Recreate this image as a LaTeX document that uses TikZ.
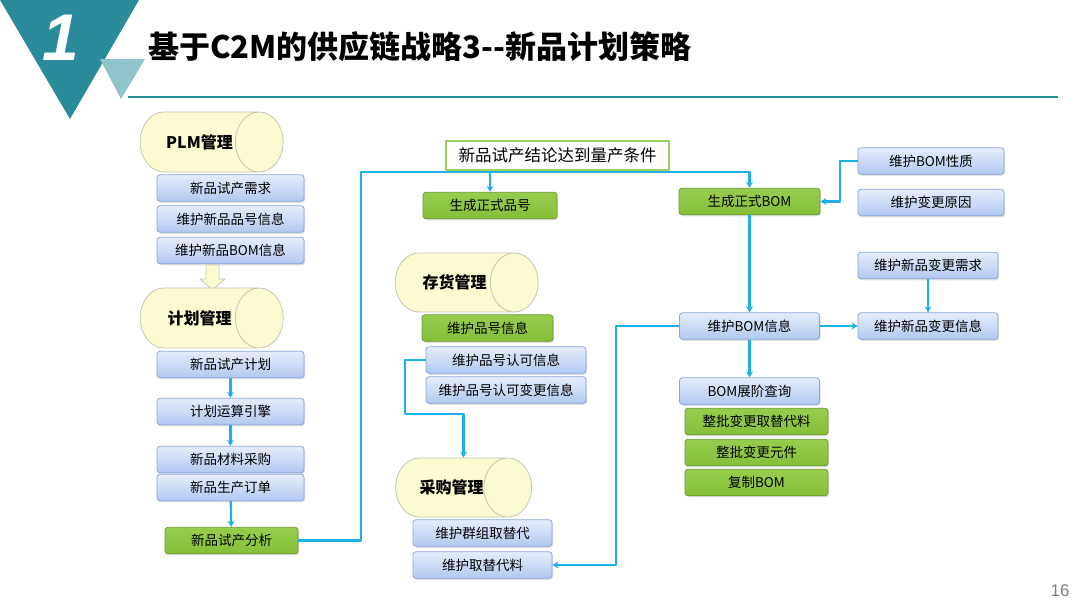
\documentclass[tikz,border=0pt]{standalone}
\usepackage{fontspec}
\setmainfont{Noto Sans CJK SC}
\newfontfamily\latinsans{Liberation Sans}
\usetikzlibrary{arrows.meta,shapes.geometric,shadows}
\definecolor{teala}{HTML}{2A8C9A}
\definecolor{tealb}{HTML}{8EC4CC}
\definecolor{flowblue}{HTML}{1EB0E6}
\definecolor{boxtop}{HTML}{E6EDFB}
\definecolor{boxbot}{HTML}{B2C8F1}
\definecolor{boxedge}{HTML}{8BA6DA}
\definecolor{greentop}{HTML}{98CC4E}
\definecolor{greenbot}{HTML}{86BF3A}
\definecolor{greenedge}{HTML}{6C9A30}
\definecolor{condedge}{HTML}{9DCF5D}
\definecolor{cylfill}{HTML}{FCFAD0}
\definecolor{cyledge}{HTML}{C4C6B4}
\tikzset{
  boxbase/.style={line width=0.8pt, rounded corners=3pt, minimum height=26.5pt, inner sep=0pt,
    drop shadow={opacity=0.25, shadow xshift=1pt, shadow yshift=-1.5pt},
    font=\fontsize{13.5}{14}\selectfont},
  bluebox/.style={boxbase, draw=boxedge, top color=boxtop, bottom color=boxbot},
  greenbox/.style={boxbase, draw=greenedge, top color=greentop, bottom color=greenbot},
  % el ancho es el diametro, la altura es el largo
  dbcyl/.style={cylinder, shape aspect=3.1, draw=cyledge, fill=cylfill, line width=0.8pt,
    minimum width=60pt, minimum height=143pt, inner sep=0pt,
    font=\fontsize{16}{16}\selectfont\bfseries},
  flow/.style={draw=flowblue, line width=2.2pt, -{Stealth[length=6pt, width=7pt]}},
}
\begin{document}
\begin{tikzpicture}[x=1pt, y=-1pt, line join=round]
  \useasboundingbox[fill=white] (0,0) rectangle (1080,608);
  % la cabecera
  \fill[teala] (0,0) -- (139,0) -- (70,119) -- cycle;
  \fill[tealb] (100,59) -- (145,59) -- (121,99) -- cycle;
  \node[text=white, font=\latinsans\fontsize{66}{66}\selectfont\bfseries\itshape] (num) at (61,38) {1};
  \node[anchor=west, inner sep=0pt, font=\fontsize{31}{32}\selectfont\bfseries] (title) at (148,47) {基于C2M的供应链战略3{-}{-}新品计划策略};
  \draw[teala, line width=1.2pt] (128,97) -- (1058,97);
  \node[text=gray, font=\latinsans\fontsize{17}{17}\selectfont] (page) at (1060,591) {16};
  % columna izquierda
  \node[dbcyl] (plm) at (199.5,142) {PLM管理};
  \foreach \nm/\y/\txt in {req/188/新品试产需求, item/219/维护新品品号信息, bomdata/250.5/维护新品BOM信息}
    \node[bluebox, minimum width=147pt] (\nm) at (230.5,\y) {\txt};
  \filldraw[fill=cylfill, draw=cyledge, line width=0.8pt] (206,265) -- (219,265) -- (219,279) -- (225,279)
    -- (212.5,290) -- (200,279) -- (206,279) -- cycle;
  \node[dbcyl] (planmgr) at (199.5,318) {计划管理};
  \foreach \nm/\y/\txt in {plan/364.5/新品试产计划, engine/411.5/计划运算引擎, buymat/459.5/新品材料采购, order/487.5/新品生产订单}
    \node[bluebox, minimum width=147pt] (\nm) at (230.5,\y) {\txt};
  \node[greenbox, minimum width=133pt] (analysis) at (231.5,540.5) {新品试产分析};
  % columna central
  \node[draw=condedge, line width=2pt, fill=white, minimum width=223pt, minimum height=29pt, inner sep=0pt,
    font=\fontsize{16.5}{17}\selectfont] (cond) at (557.5,155.5) {新品试产结论达到量产条件};
  \node[greenbox, minimum width=134pt] (partno) at (490,205.5) {生成正式品号};
  \node[dbcyl, minimum width=59pt] (stock) at (454.5,282.5) {存货管理};
  \node[greenbox, minimum width=131pt] (keepitem) at (487.5,328) {维护品号信息};
  \node[bluebox, minimum width=160pt] (approve) at (506,360) {维护品号认可信息};
  \node[bluebox, minimum width=160pt] (approvechg) at (506,390) {维护品号认可变更信息};
  \node[dbcyl, minimum width=59pt, minimum height=127pt] (buy) at (451.5,487.5) {采购管理};
  \node[bluebox, minimum width=139pt] (group) at (482.5,533) {维护群组取替代};
  \node[bluebox, minimum width=139pt] (subst) at (482.5,565) {维护取替代料};
  % columna derecha
  \node[greenbox, minimum width=141pt] (formalbom) at (749.5,201.5) {生成正式BOM};
  \node[bluebox, minimum width=146pt] (bomprop) at (931,161) {维护BOM性质};
  \node[bluebox, minimum width=146pt] (reason) at (931,202.5) {维护变更原因};
  \node[bluebox, minimum width=140pt] (chgreq) at (928,265.5) {维护新品变更需求};
  \node[bluebox, minimum width=140pt] (chginfo) at (928,326) {维护新品变更信息};
  \node[bluebox, minimum width=140pt] (bomkeep) at (749.5,326) {维护BOM信息};
  \node[bluebox, minimum width=140pt] (expand) at (749.5,391) {BOM展阶查询};
  \foreach \nm/\y/\txt in {batchsub/421.5/整批变更取替代料, batchpart/452.5/整批变更元件, copybom/482.5/复制BOM}
    \node[greenbox, minimum width=143pt] (\nm) at (756.5,\y) {\txt};
  % las flechas
  \coordinate (busL) at (361,172);
  \coordinate (kinkR) at (840,161);
  \coordinate (kinkA) at (405,414);
  \coordinate (retR) at (616,565);
  \draw[flow] (plan) -- (engine);
  \draw[flow] (engine) -- (buymat);
  \draw[flow] (order) -- (analysis);
  \draw[flow] (analysis.east) -| (busL) -| (formalbom.north);
  \draw[flow] (partno.north |- busL) -- (partno.north);
  \draw[flow] (bomprop.west) -- (kinkR) |- (formalbom.east);
  \draw[flow] (formalbom) -- (bomkeep);
  \draw[flow] (bomkeep) -- (chginfo);
  \draw[flow] (chgreq) -- (chginfo);
  \draw[flow] (bomkeep) -- (expand);
  \draw[flow] (bomkeep.west) -| (retR) -- (subst.east);
  \draw[flow] (approve.west) -| (kinkA) -| ([xshift=12pt]buy.north);
\end{tikzpicture}
\end{document}
